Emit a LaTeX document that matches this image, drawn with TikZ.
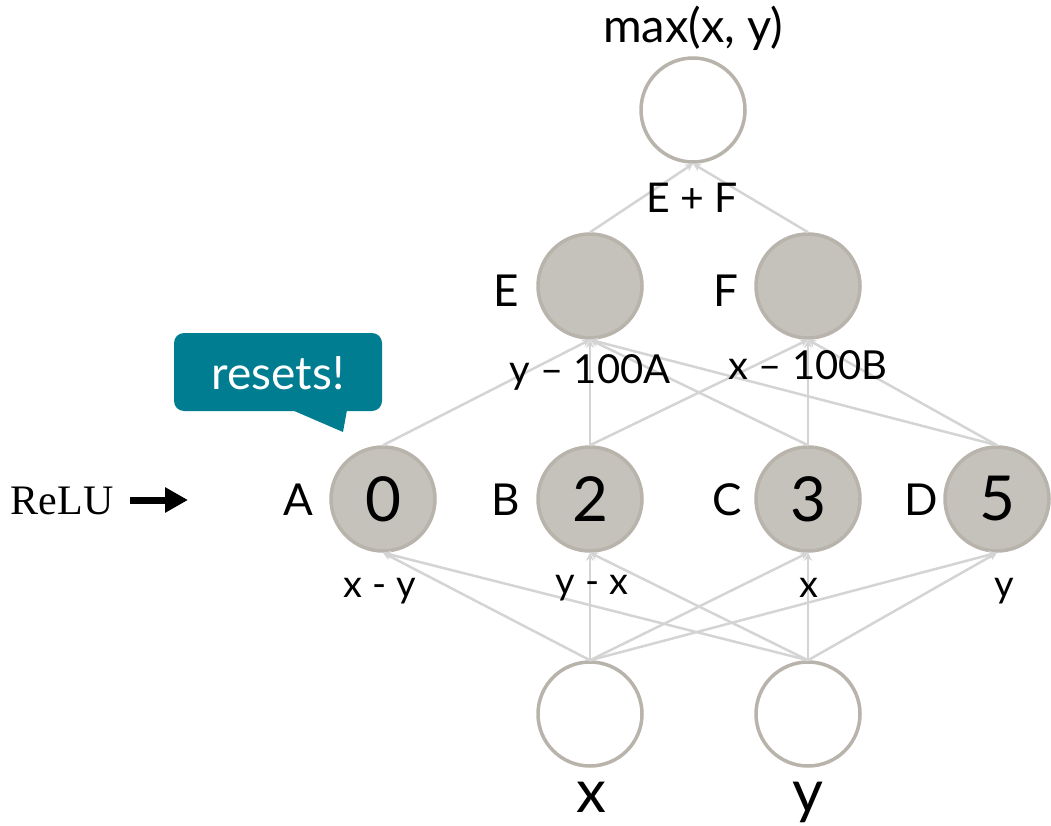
\documentclass[tikz,border=0pt]{standalone}
\usepackage{fontspec}
\setmainfont{Lato}
\newfontfamily\relufont{Liberation Serif}
\usetikzlibrary{arrows.meta}
\definecolor{ringgray}{RGB}{184,179,171}
\definecolor{cellfill}{RGB}{197,194,187}
\definecolor{wiregray}{RGB}{212,212,212}
\definecolor{calloutteal}{RGB}{0,125,145}
\tikzset{
  unit/.style={circle, minimum size=104pt, inner sep=0pt, line width=3.5pt, draw=ringgray},
  openunit/.style={unit, fill=white},
  hidunit/.style={unit, fill=cellfill},
  wire/.style={draw=wiregray, line width=2.5pt, -{Stealth[length=8pt,width=8pt]}},
  fs/.style={font=\fontsize{#1}{#1}\selectfont},
  txt/.style={anchor=base, inner sep=0pt, fs=#1},
}
\begin{document}
\begin{tikzpicture}[x=1pt,y=-1pt]
\path[use as bounding box] (0,0) rectangle (1051,826);

% output unit
\node[openunit] (M) at (693,110) {};
% second hidden layer
\node[hidunit] (E) at (590,286) {};
\node[hidunit] (F) at (808,286) {};
% first hidden layer (ReLU)
\node[hidunit, fs=62] (A) at (383,499) {0};
\node[hidunit, fs=62] (B) at (590,499) {2};
\node[hidunit, fs=62] (C) at (808,499) {3};
\node[hidunit, fs=62] (D) at (997,499) {5};
% inputs
\node[openunit] (X) at (590,714) {};
\node[openunit] (Y) at (808,714) {};

% connections
\foreach \s in {X,Y}
  \foreach \t in {A,B,C,D}
    \draw[wire] (\s.north) -- (\t.south);
\foreach \s in {A,B,C,D}
  \draw[wire] (\s.north) -- (E.south);
\foreach \s in {B,C,D}
  \draw[wire] (\s.north) -- (F.south);
\draw[wire] (E.north) -- (M.south);
\draw[wire] (F.north) -- (M.south);

% labels
\node[txt=47] (tmax) at (693,43) {max(x, y)};
\node[txt=41] (tsum) at (692,213) {E + F};
\node[txt=44] (tE) at (506,306) {E};
\node[txt=44] (tF) at (726,306) {F};
\node[txt=40] (tEin) at (590,383) {y – 100A};
\node[txt=40] (tFin) at (808,379) {x – 100B};
\node[txt=44] (tA) at (298,515) {A};
\node[txt=44] (tB) at (506,515) {B};
\node[txt=44] (tC) at (727,515) {C};
\node[txt=44] (tD) at (921,515) {D};
\node[txt=38] (tAin) at (380,597) {x - y};
\node[txt=38] (tBin) at (592,594) {y - x};
\node[txt=38] (tCin) at (809,597) {x};
\node[txt=38] (tDin) at (1004,597) {y};
\node[txt=60] (tX) at (591,812) {x};
\node[txt=60] (tY) at (808,812) {y};

% callout
\fill[calloutteal, rounded corners=10pt] (174,333) rectangle (382,411);
\fill[calloutteal] (292,410) -- (343,432) -- (347,410) -- cycle;
\node[txt=46, text=white] (tres) at (278,389) {resets!};

% ReLU marker
\node[anchor=base, inner sep=0pt, font=\relufont\fontsize{42}{42}\selectfont] (trelu) at (62,514) {ReLU};
\coordinate (rs) at (130,500);
\coordinate (re) at (188,500);
\draw[line width=7pt, -{Triangle[length=23pt,width=24pt]}] (rs) -- (re);
\end{tikzpicture}
\end{document}
